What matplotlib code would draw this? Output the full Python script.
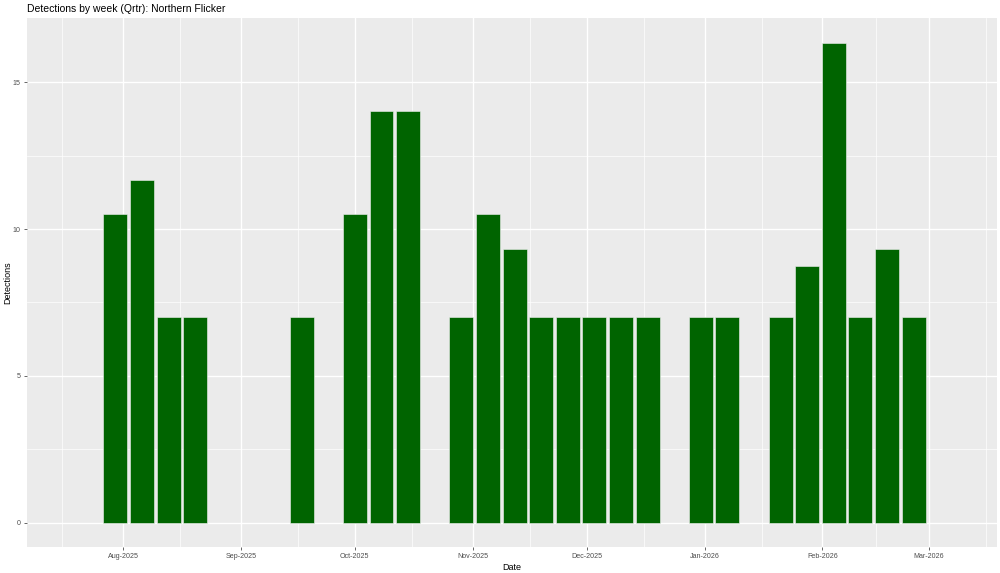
import matplotlib
matplotlib.use("Agg")
import matplotlib.pyplot as plt
import matplotlib.dates as mdates
import numpy as np
import pandas as pd

weeks = ["2025-07-30", "2025-08-06", "2025-08-13", "2025-08-20", "2025-09-17",
         "2025-10-01", "2025-10-08", "2025-10-15", "2025-10-29", "2025-11-05",
         "2025-11-12", "2025-11-19", "2025-11-26", "2025-12-03", "2025-12-10",
         "2025-12-17", "2025-12-31", "2026-01-07", "2026-01-21", "2026-01-28",
         "2026-02-04", "2026-02-11", "2026-02-18", "2026-02-25"]
detections = [10.5, 11.67, 7, 7, 7,
              10.5, 14, 14, 7, 10.5,
              9.33, 7, 7, 7, 7,
              7, 7, 7, 7, 8.75,
              16.33, 7, 9.33, 7]
major_ticks = ["2025-08-01", "2025-09-01", "2025-10-01", "2025-11-01",
               "2025-12-01", "2026-01-01", "2026-02-01", "2026-03-01"]
minor_ticks = ["2025-07-16", "2025-08-16", "2025-09-16", "2025-10-16",
               "2025-11-16", "2025-12-16", "2026-01-16", "2026-02-15", "2026-03-16"]

plt.rcParams['font.family'] = ['Liberation Sans', 'DejaVu Sans']

fig = plt.figure(figsize=(10, 5.73), dpi=100)
ax = fig.add_axes([27/1000, 1 - 547/573, 970/1000, 529/573])
ax.set_facecolor('#EBEBEB')
for s in ax.spines.values():
    s.set_visible(False)

x = mdates.date2num(pd.to_datetime(weeks))
ax.bar(x, detections, width=6.3, color='#006400', edgecolor='#f0f0f0',
       linewidth=0.4, zorder=3)

xmaj = mdates.date2num(pd.to_datetime(major_ticks))
xmin = mdates.date2num(pd.to_datetime(minor_ticks))
ax.set_xticks(xmaj)
ax.set_xticklabels([pd.Timestamp(t).strftime('%b-%Y') for t in major_ticks])
ax.set_xticks(xmin, minor=True)
ax.set_yticks([0, 5, 10, 15])
ax.set_yticks([2.5, 7.5, 12.5], minor=True)

ax.grid(which='major', color='white', linewidth=1.0, zorder=0)
ax.grid(which='minor', color='white', linewidth=0.5, zorder=0)
ax.set_axisbelow(True)

ax.set_xlim(mdates.date2num(pd.Timestamp("2025-07-06 18:00")),
            mdates.date2num(pd.Timestamp("2026-03-18 22:00")))
ax.set_ylim(-0.82, 17.18)

ax.tick_params(axis='both', which='major', labelsize=5.1, colors='#4D4D4D',
               length=2.5, width=0.6, pad=2)
ax.tick_params(axis='both', which='minor', length=0)

ax.set_xlabel('Date', fontsize=6.5, labelpad=2)
ax.set_ylabel('Detections', fontsize=6.5, va='center')
ax.yaxis.set_label_coords(-19/970, 0.5)
ax.set_title('Detections by week (Qrtr): Northern Flicker', fontsize=7.5, loc='left',
             pad=4)

fig.savefig('out.png', dpi=100)
